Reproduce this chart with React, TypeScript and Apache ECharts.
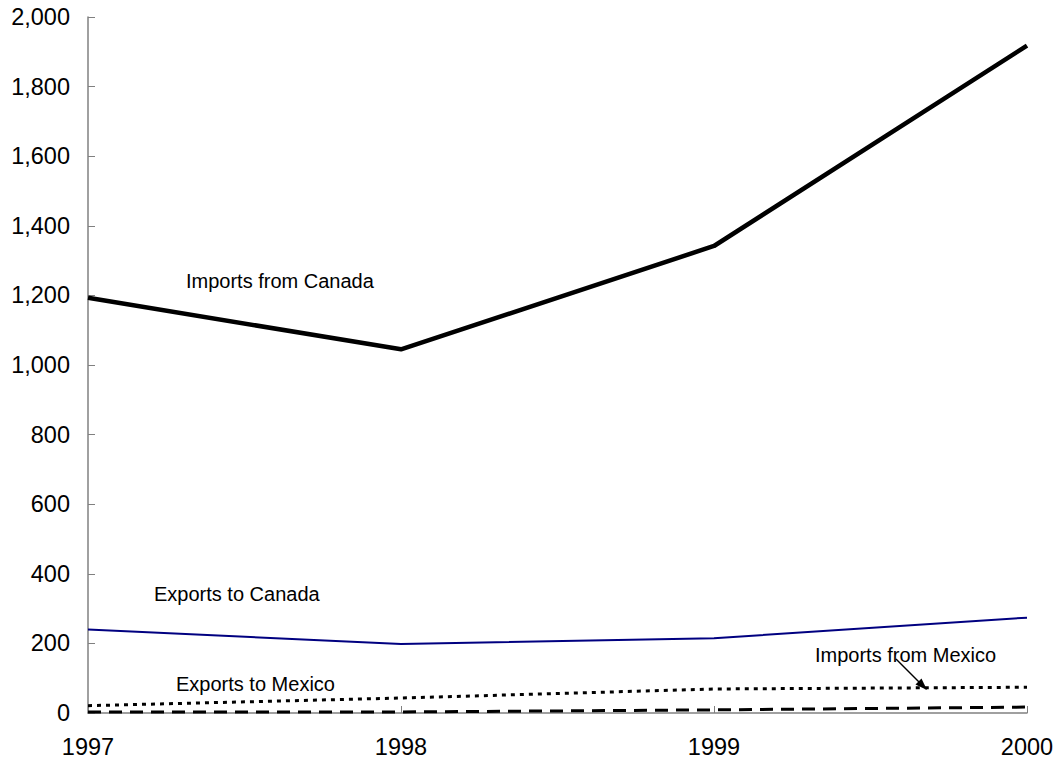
import React, { useEffect, useRef } from "react";
import * as echarts from "echarts";

const years = ["1997", "1998", "1999", "2000"];
const importsFromCanada = [1193, 1045, 1342, 1918];
const exportsToCanada = [240, 198, 215, 274];
const importsFromMexico = [21, 43, 69, 74];
const exportsToMexico = [3, 3, 9, 17];
const yTicks = { min: 0, max: 2000, interval: 200 };

const FONT = "'Liberation Sans', Arial, sans-serif";

export default function App() {
  const ref = useRef<HTMLDivElement>(null);
  useEffect(() => {
    document.body.style.margin = "0";
    const chart = echarts.init(ref.current!, null, { renderer: "svg" });
    const axisLine = { show: true, lineStyle: { color: "#808080", width: 1.5 } };
    const label = (text: string, x: number, y: number) => ({
      type: "text",
      x,
      y,
      style: { text, fill: "#000", font: `20px ${FONT}`, verticalAlign: "middle" },
      z: 10,
    });
    chart.setOption({
      animation: false,
      backgroundColor: "#fff",
      grid: { left: 88, right: 30, top: 17, bottom: 49, outerBoundsMode: "none" },
      xAxis: {
        type: "category",
        data: years,
        boundaryGap: false,
        axisLine,
        axisTick: { show: true, inside: true, length: 7, lineStyle: { color: "#808080" } },
        axisLabel: { color: "#000", fontSize: 23.5, fontFamily: FONT, margin: 22 },
        splitLine: { show: false },
      },
      yAxis: {
        type: "value",
        min: yTicks.min,
        max: yTicks.max,
        interval: yTicks.interval,
        axisLine,
        axisTick: { show: true, inside: true, length: 7, lineStyle: { color: "#808080" } },
        axisLabel: {
          color: "#000",
          fontSize: 23.5,
          fontFamily: FONT,
          margin: 18,
          formatter: (v: number) => v.toLocaleString("en-US"),
        },
        splitLine: { show: false },
      },
      series: [
        {
          name: "Exports to Mexico",
          type: "line",
          data: exportsToMexico,
          symbol: "none",
          lineStyle: { color: "#000", width: 3, type: [13, 8] },
          z: 3,
        },
        {
          name: "Imports from Mexico",
          type: "line",
          data: importsFromMexico,
          symbol: "none",
          lineStyle: { color: "#000", width: 3, type: [4, 5] },
          z: 3,
        },
        {
          name: "Exports to Canada",
          type: "line",
          data: exportsToCanada,
          symbol: "none",
          lineStyle: { color: "#000080", width: 2 },
          z: 3,
        },
        {
          name: "Imports from Canada",
          type: "line",
          data: importsFromCanada,
          symbol: "none",
          lineStyle: { color: "#000", width: 4.5 },
          z: 3,
        },
      ],
      graphic: [
        label("Imports from Canada", 186, 281),
        label("Exports to Canada", 154, 594),
        label("Exports to Mexico", 176, 684),
        label("Imports from Mexico", 815, 655),
        {
          type: "line",
          shape: { x1: 896, y1: 659, x2: 920, y2: 683 },
          style: { stroke: "#000", lineWidth: 1.5 },
          z: 10,
        },
        {
          type: "polygon",
          shape: { points: [[927, 690], [915.5, 684.5], [921.5, 678.5]] },
          style: { fill: "#000" },
          z: 10,
        },
      ],
    });
    return () => chart.dispose();
  }, []);
  return <div ref={ref} style={{ width: 1057, height: 762 }} />;
}
